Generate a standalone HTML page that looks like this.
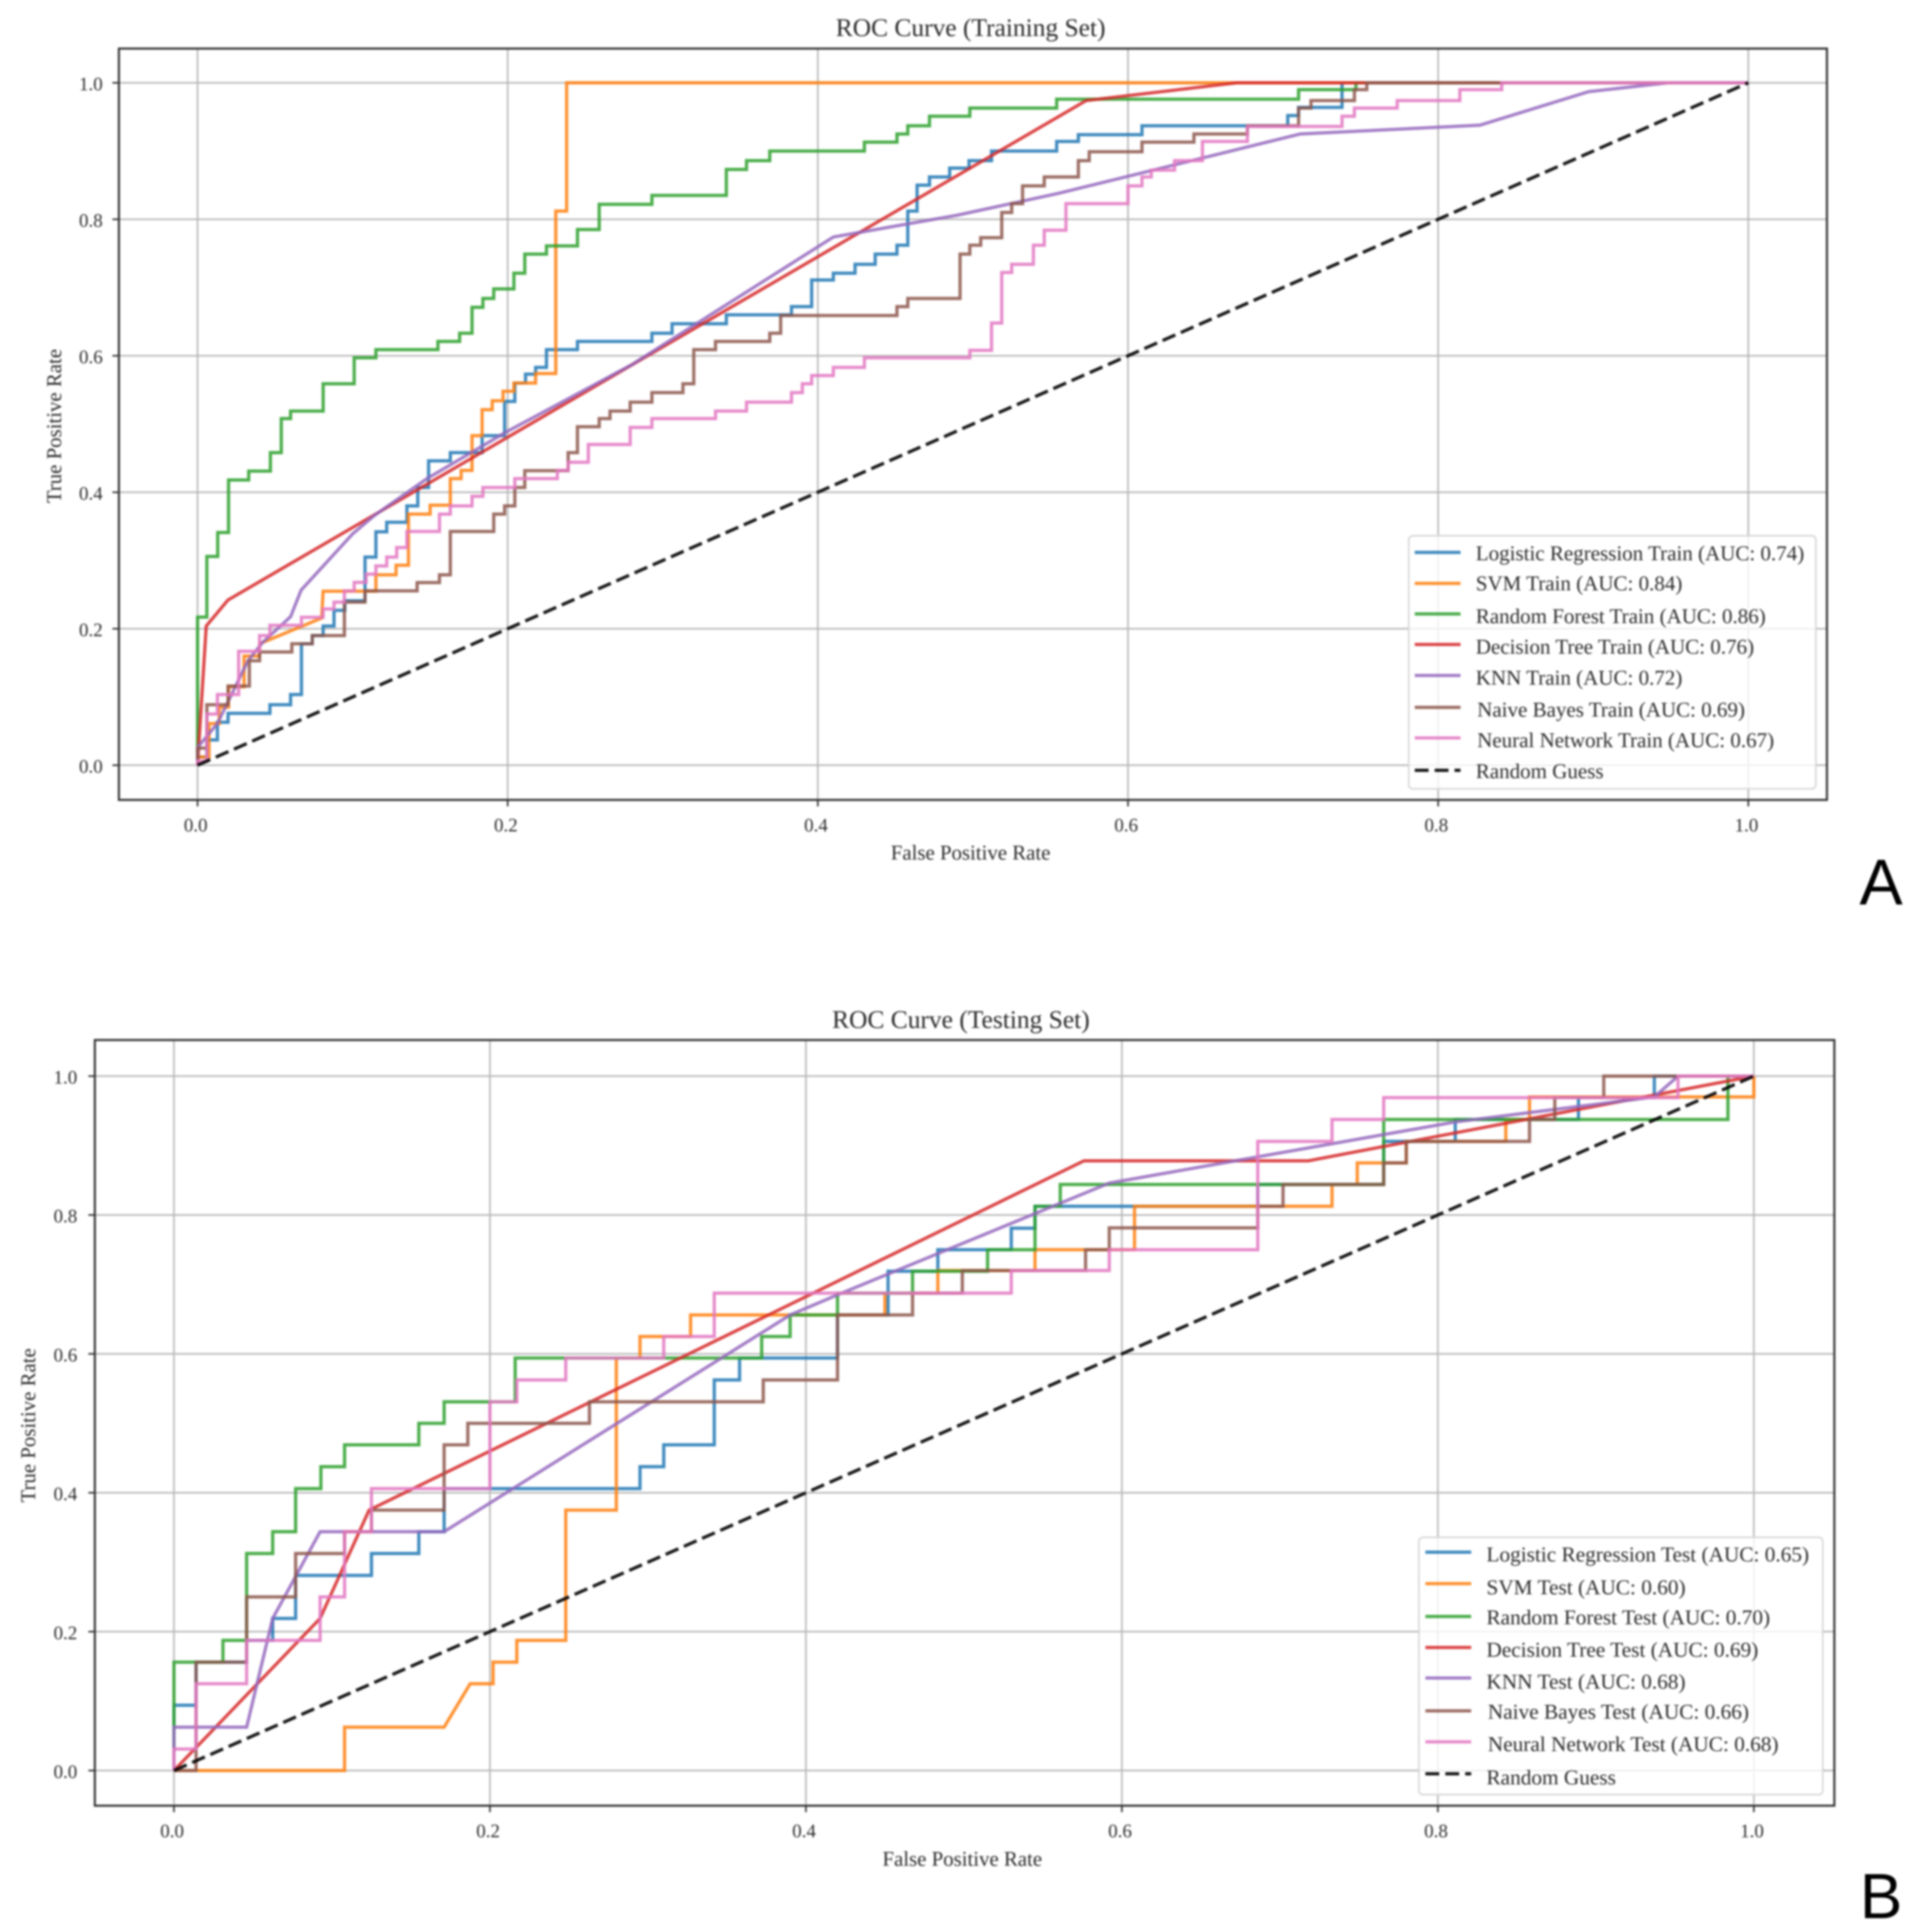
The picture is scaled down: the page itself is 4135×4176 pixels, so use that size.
<!DOCTYPE html>
<html lang="en">
<head>
<meta charset="utf-8">
<title>ROC Curves</title>
<style>
html,body{margin:0;padding:0;background:#fff;width:4135px;height:4176px;overflow:hidden}
svg{display:block;position:absolute;left:0;top:0}
text{font-family:"Liberation Serif",serif;fill:#2a2a2a}
#charts{filter:blur(2px)}
</style>
</head>
<body>
<svg id="charts" xmlns="http://www.w3.org/2000/svg" width="4135" height="4176" viewBox="0 0 4135 4176"></svg>
<script>
// ---- shared data ----
const tickValues = [0, 0.2, 0.4, 0.6, 0.8, 1.0];
const tickLabels = ['0.0', '0.2', '0.4', '0.6', '0.8', '1.0'];
const modelNames = ['Logistic Regression', 'SVM', 'Random Forest', 'Decision Tree', 'KNN', 'Naive Bayes', 'Neural Network'];
const trainAuc = ['0.74', '0.84', '0.86', '0.76', '0.72', '0.69', '0.67'];
const testAuc = ['0.65', '0.60', '0.70', '0.69', '0.68', '0.66', '0.68'];

// ---- training set: step curves; at each fpr the curve rises to the tpr ----
const trainLogregFpr = [0,.006,.0128,.0197,.0467,.06,.067,.074,.081,.088,.095,.108,.115,.122,.135,.142,.149,.163,.1835,.198,.2046,.2115,.218,.225,.245,.293,.306,.341,.383,.396,.41,.424,.437,.451,.458,.464,.472,.485,.4975,.512,.554,.568,.609,.703,.71,.738,1];
const trainLogregTpr = [.012,.037,.063,.076,.0887,.1035,.178,.19,.204,.227,.241,.305,.342,.356,.38,.407,.446,.458,.483,.533,.56,.573,.583,.609,.621,.633,.647,.66,.672,.711,.721,.734,.749,.762,.812,.85,.862,.875,.886,.9,.914,.924,.937,.952,.964,1,1];
const trainForestFpr = [0,.006,.013,.02,.033,.047,.054,.06,.081,.101,.115,.155,.169,.177,.184,.191,.204,.211,.225,.245,.259,.293,.341,.354,.369,.43,.451,.458,.472,.498,.554,.71,.747,1];
const trainForestTpr = [.217,.306,.341,.418,.431,.458,.508,.519,.559,.597,.609,.621,.633,.671,.684,.698,.721,.749,.761,.785,.822,.835,.873,.886,.9,.913,.925,.937,.951,.963,.976,.99,1,1];
const trainBayesFpr = [0,.006,.0197,.0334,.04,.0608,.074,.0947,.108,.1416,.156,.163,.191,.198,.2046,.211,.239,.245,.259,.266,.279,.293,.313,.32,.334,.369,.376,.451,.458,.4917,.498,.505,.5186,.525,.532,.546,.568,.575,.609,.6425,.677,.71,.718,.746,.754,1];
const trainBayesTpr = [.025,.0887,.116,.153,.166,.178,.19,.239,.2555,.2676,.279,.3426,.368,.38,.407,.4316,.458,.496,.508,.519,.532,.546,.559,.609,.621,.633,.659,.672,.684,.749,.762,.773,.81,.823,.849,.862,.886,.899,.913,.925,.937,.963,.974,.99,1,1];
const trainNeuralFpr = [0,.006,.0128,.0265,.04,.0467,.067,.081,.088,.0947,.101,.1087,.115,.122,.1284,.135,.156,.163,.177,.184,.2046,.232,.239,.252,.279,.293,.334,.354,.383,.39,.396,.41,.43,.498,.512,.5186,.525,.539,.546,.56,.6,.609,.615,.63,.648,.677,.738,.746,.7736,.814,.841,1];
const trainNeuralTpr = [.006,.075,.1035,.167,.19,.205,.2168,.229,.239,.2555,.268,.28,.292,.305,.319,.3426,.368,.38,.394,.407,.42,.432,.444,.47,.495,.508,.519,.532,.546,.559,.571,.583,.597,.608,.648,.722,.734,.762,.784,.823,.849,.862,.872,.886,.914,.936,.951,.963,.974,.99,1,1];
// ---- training set: piecewise-linear curves ----
const trainSvmFpr = [0,0,.0074,.0074,.014,.014,.02,.02,.03,.03,.04,.04,.08,.081,.115,.115,.128,.128,.136,.136,.15,.15,.163,.163,.17,.17,.177,.177,.1835,.1835,.19,.19,.197,.197,.204,.204,.218,.218,.231,.231,.238,.238,1];
const trainSvmTpr = [0,.012,.012,.061,.061,.085,.085,.115,.115,.16,.16,.178,.2156,.255,.255,.279,.279,.293,.293,.368,.368,.381,.381,.42,.42,.432,.432,.483,.483,.521,.521,.534,.534,.548,.548,.56,.56,.574,.574,.812,.812,1,1];
const trainTreeFpr = [0,.0056,.0196,.573,.67,1];
const trainTreeTpr = [0,.204,.242,.974,1,1];
const trainKnnFpr = [0,0,.0128,.0325,.042,.06,.0668,.1,.114,.148,.198,.28,.41,.49,.555,.6,.711,.827,.897,.948,1];
const trainKnnTpr = [0,.026,.061,.153,.18,.2176,.2566,.339,.366,.42,.487,.587,.774,.806,.838,.863,.925,.938,.987,1,1];

// ---- testing set: step curves ----
const testLogregFpr = [0,.014,.046,.0625,.077,.125,.155,.171,.295,.31,.342,.358,.42,.452,.4835,.53,.545,.686,.7657,.811,.889,.937,1];
const testLogregTpr = [.094,.156,.1875,.219,.281,.3125,.344,.406,.4375,.469,.5625,.594,.656,.719,.75,.781,.8125,.844,.906,.9375,.969,1,1];
const testForestFpr = [0,.031,.046,.0625,.077,.093,.108,.155,.171,.216,.372,.39,.42,.4675,.515,.545,.561,.7657,.9836,1];
const testForestTpr = [.156,.1875,.3125,.344,.406,.4375,.469,.5,.531,.594,.625,.656,.6875,.719,.75,.8125,.844,.9375,1,1];
const testBayesFpr = [0,.014,.046,.077,.108,.125,.171,.186,.263,.373,.42,.4675,.499,.577,.592,.686,.702,.7657,.78,.858,.874,.905,1];
const testBayesTpr = [0,.156,.25,.3125,.344,.375,.469,.5,.531,.5625,.656,.6875,.72,.75,.7815,.8125,.844,.875,.906,.9375,.969,1,1];
const testNeuralFpr = [0,.014,.046,.0925,.108,.125,.2,.217,.248,.31,.342,.53,.592,.686,.733,.7657,.952,1];
const testNeuralTpr = [.031,.125,.1875,.25,.344,.406,.531,.5625,.594,.625,.6875,.72,.75,.906,.9375,.969,1,1];
// ---- testing set: piecewise-linear curves ----
const testSvmFpr = [0,.108,.108,.171,.1875,.202,.202,.217,.217,.248,.248,.28,.28,.295,.295,.327,.327,.45,.45,.4835,.4835,.545,.545,.608,.608,.733,.733,.749,.749,.78,.78,.843,.843,.858,.858,1,1];
const testSvmTpr = [0,0,.0625,.0625,.125,.125,.156,.156,.1875,.1875,.375,.375,.594,.594,.625,.625,.656,.656,.6875,.6875,.72,.72,.75,.75,.8125,.8125,.844,.844,.875,.875,.906,.906,.9375,.9375,.97,.97,1];
const testTreeFpr = [0,.0925,.1235,.576,.718,1];
const testTreeTpr = [0,.219,.375,.878,.878,1];
const testKnnFpr = [0,0,.046,.0625,.0925,.171,.39,.42,.592,.811,.937,.952,1];
const testKnnTpr = [0,.0625,.0625,.219,.344,.344,.656,.685,.846,.934,.97,1,1];

const baselineFpr = [0, 1];
const baselineTpr = [0, 1];

const seriesColors = ['#1f77b4', '#ff7f0e', '#2ca02c', '#d62728', '#9467bd', '#8c564b', '#e377c2'];

const SVG_NS = 'http://www.w3.org/2000/svg';
const root = document.getElementById('charts');

function make(parent, tag, attrs, name) {
  const el = document.createElementNS(SVG_NS, tag);
  for (const k in attrs) el.setAttribute(k, attrs[k]);
  
  
  parent.appendChild(el);
  return el;
}
function label(parent, x, y, str, size, anchor, name, extra) {
  const t = make(parent, 'text', Object.assign({x: x, y: y, 'font-size': size, 'text-anchor': anchor}, extra || {}), name);
  t.textContent = str;
  return t;
}
function stepPoints(fpr, tpr, sx, sy) {
  let pts = [[sx(0), sy(0)]];
  let prev = 0;
  fpr.forEach(function (x, i) {
    pts.push([sx(x), sy(prev)]);
    pts.push([sx(x), sy(tpr[i])]);
    prev = tpr[i];
  });
  return pts;
}
function linePoints(fpr, tpr, sx, sy) {
  return fpr.map(function (x, i) { return [sx(x), sy(tpr[i])]; });
}
function toAttr(pts) {
  return pts.map(function (p) { return p[0].toFixed(1) + ',' + p[1].toFixed(1); }).join(' ');
}

function drawChart(c) {
  const g = make(root, 'g', {}, c.key + '-chart');
  const sx = function (v) { return c.x0 + v * (c.x1 - c.x0); };
  const sy = function (v) { return c.y0 + v * (c.y1 - c.y0); };

  label(g, c.titleX, c.titleY, c.title, 55, 'middle', c.key + '-title');
  label(g, c.xLabelX, c.xLabelY, 'False Positive Rate', 45, 'middle', c.key + '-x-axis-title');
  label(g, 0, 0, 'True Positive Rate', 45, 'middle', c.key + '-y-axis-title',
    {transform: 'translate(' + c.yLabelX + ',' + c.yLabelY + ') rotate(-90)'});

  tickValues.forEach(function (v, i) {
    make(g, 'line', {x1: sx(v), x2: sx(v), y1: c.top, y2: c.bottom, stroke: '#b8b8b8', 'stroke-width': 3.5}, c.key + '-x-gridline');
    make(g, 'line', {x1: c.left, x2: c.right, y1: sy(v), y2: sy(v), stroke: '#b8b8b8', 'stroke-width': 3.5}, c.key + '-y-gridline');
    make(g, 'line', {x1: sx(v), x2: sx(v), y1: c.bottom, y2: c.bottom + 14, stroke: '#333', 'stroke-width': 3.5}, c.key + '-x-tick');
    make(g, 'line', {x1: c.left - 14, x2: c.left, y1: sy(v), y2: sy(v), stroke: '#333', 'stroke-width': 3.5}, c.key + '-y-tick');
    label(g, sx(v) - 4, c.xTickY, tickLabels[i], 41, 'middle', c.key + '-x-tick-label');
    label(g, c.yTickX, sy(v) + 16, tickLabels[i], 41, 'end', c.key + '-y-tick-label');
  });

  c.series.forEach(function (s, i) {
    const pts = s.steps ? stepPoints(s.fpr, s.tpr, sx, sy) : linePoints(s.fpr, s.tpr, sx, sy);
    make(g, 'polyline', {points: toAttr(pts), fill: 'none', stroke: seriesColors[i], 'stroke-width': 7, 'stroke-opacity': .85, 'stroke-linejoin': 'miter'}, c.key + '-curve-' + modelNames[i].toLowerCase().replace(/ /g, '-'));
  });
  make(g, 'polyline', {points: toAttr(linePoints(baselineFpr, baselineTpr, sx, sy)), fill: 'none', stroke: '#000', 'stroke-width': 7, 'stroke-opacity': .9, 'stroke-dasharray': '30 13'}, c.key + '-random-guess-line');

  make(g, 'rect', {x: c.left, y: c.top, width: c.right - c.left, height: c.bottom - c.top, fill: 'none', stroke: '#333', 'stroke-width': 4.5}, c.key + '-plot-frame');

  const lg = make(g, 'g', {}, c.key + '-legend');
  make(lg, 'rect', {x: c.lgX, y: c.lgY, width: c.lgW, height: c.lgH, rx: 9, fill: '#fff', 'fill-opacity': .8, stroke: '#d6d6d6', 'stroke-width': 3.5}, c.key + '-legend-box');
  const names = modelNames.map(function (n, i) { return n + ' ' + c.suffix + ' (AUC: ' + c.auc[i] + ')'; }).concat(['Random Guess']);
  names.forEach(function (n, i) {
    const isGuess = i === 7;
    const attrs = {x1: c.lgLineX, x2: c.lgLineX + 99, y1: c.lgLineY[i], y2: c.lgLineY[i], stroke: isGuess ? '#000' : seriesColors[i], 'stroke-width': 7, 'stroke-opacity': isGuess ? .9 : .85};
    if (isGuess) attrs['stroke-dasharray'] = '30 13';
    make(lg, 'line', attrs, c.key + '-legend-swatch');
    const offset = (i === 5 || i === 6) ? 3 : 0;
    label(lg, c.lgTextX + offset, c.lgLineY[i] + c.lgTextDy + c.lgTextShift[i], n, c.lgFont, 'start', c.key + '-legend-entry');
  });
}

drawChart({
  key: 'training', title: 'ROC Curve (Training Set)', suffix: 'Train', auc: trainAuc,
  left: 257, right: 3949, top: 105, bottom: 1729,
  x0: 427, x1: 3779, y0: 1654, y1: 179,
  titleX: 2098, titleY: 78, xLabelX: 2098, xLabelY: 1858, yLabelX: 132, yLabelY: 921,
  xTickY: 1797, yTickX: 222,
  lgX: 3045, lgY: 1158, lgW: 880, lgH: 547, lgLineX: 3058, lgTextX: 3190, lgTextDy: 17, lgFont: 45.4,
  lgLineY: [1194, 1261, 1327, 1393, 1460, 1529, 1595, 1665],
  lgTextShift: [0, -2, 3, 3, 3, 3, 3, 0],
  series: [
    {fpr: trainLogregFpr, tpr: trainLogregTpr, steps: true},
    {fpr: trainSvmFpr, tpr: trainSvmTpr, steps: false},
    {fpr: trainForestFpr, tpr: trainForestTpr, steps: true},
    {fpr: trainTreeFpr, tpr: trainTreeTpr, steps: false},
    {fpr: trainKnnFpr, tpr: trainKnnTpr, steps: false},
    {fpr: trainBayesFpr, tpr: trainBayesTpr, steps: true},
    {fpr: trainNeuralFpr, tpr: trainNeuralTpr, steps: true}
  ]
});
drawChart({
  key: 'testing', title: 'ROC Curve (Testing Set)', suffix: 'Test', auc: testAuc,
  left: 205, right: 3965, top: 2248, bottom: 3903,
  x0: 376, x1: 3791, y0: 3827, y1: 2326,
  titleX: 2077, titleY: 2222, xLabelX: 2080, xLabelY: 4033, yLabelX: 76, yLabelY: 3081,
  xTickY: 3971, yTickX: 167,
  lgX: 3067, lgY: 3323, lgW: 873, lgH: 556, lgLineX: 3081, lgTextX: 3213, lgTextDy: 20, lgFont: 46,
  lgLineY: [3355, 3423, 3494, 3561, 3627, 3698, 3765, 3834],
  lgTextShift: [0, 3, -3, 0, 3, -3, 0, 3],
  series: [
    {fpr: testLogregFpr, tpr: testLogregTpr, steps: true},
    {fpr: testSvmFpr, tpr: testSvmTpr, steps: false},
    {fpr: testForestFpr, tpr: testForestTpr, steps: true},
    {fpr: testTreeFpr, tpr: testTreeTpr, steps: false},
    {fpr: testKnnFpr, tpr: testKnnTpr, steps: false},
    {fpr: testBayesFpr, tpr: testBayesTpr, steps: true},
    {fpr: testNeuralFpr, tpr: testNeuralTpr, steps: true}
  ]
});

const panelA = make(root, 'text', {x: 4066, y: 1955, 'font-size': 140, 'text-anchor': 'middle', style: 'font-family:"Liberation Sans",sans-serif;fill:#000'}, 'panel-label-a');
panelA.textContent = 'A';
const panelB = make(root, 'text', {x: 4066, y: 4146, 'font-size': 138, 'text-anchor': 'middle', style: 'font-family:"Liberation Sans",sans-serif;fill:#000'}, 'panel-label-b');
panelB.textContent = 'B';
</script>
</body>
</html>
